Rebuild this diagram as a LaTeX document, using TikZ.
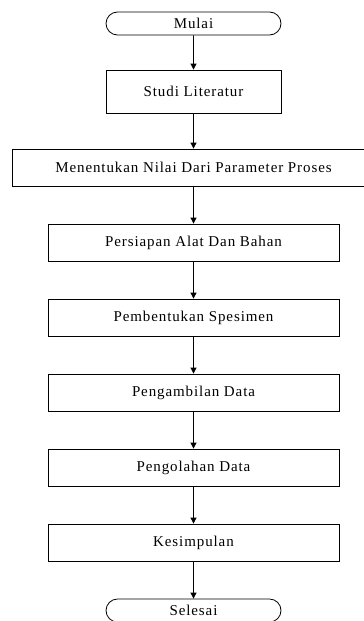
\documentclass[tikz,border=0pt]{standalone}
\usepackage{fontspec}
\setmainfont{Liberation Serif}[LetterSpace=6]
\usetikzlibrary{arrows.meta,shapes.misc}
\begin{document}
\begin{tikzpicture}[x=1pt,y=-1pt,
  txt/.style={font=\fontsize{15}{17}\selectfont, inner sep=0pt, text=black},
  box/.style={txt, draw=black, line width=0.8pt, rectangle, minimum width=291pt, minimum height=37pt},
  term/.style={txt, draw=black, line width=0.8pt, rounded rectangle, minimum width=175pt, minimum height=23pt},
  flow/.style={-{Triangle[width=6pt,length=6pt]}, line width=0.8pt, draw=black}]
\useasboundingbox (0,0) rectangle (364,621);
\node[term] (mulai) at (193.5,23.5) {Mulai};
\node[box, minimum width=175pt, minimum height=43pt] (studi) at (193.5,91.5) {Studi Literatur};
\node[box, minimum width=363pt] (nilai) at (193.5,167.5) {Menentukan Nilai Dari Parameter Proses};
\node[box] (alat) at (193.5,242.5) {Persiapan Alat Dan Bahan};
\node[box] (spes) at (193.5,317.5) {Pembentukan Spesimen};
\node[box] (ambil) at (193.5,392.5) {Pengambilan Data};
\node[box] (olah) at (193.5,467.5) {Pengolahan Data};
\node[box] (simpul) at (193.5,542.5) {Kesimpulan};
\node[term] (selesai) at (193.5,610.5) {Selesai};
\draw[flow] (mulai) -- (studi);
\draw[flow] (studi) -- (nilai);
\draw[flow] (nilai) -- (alat);
\draw[flow] (alat) -- (spes);
\draw[flow] (spes) -- (ambil);
\draw[flow] (ambil) -- (olah);
\draw[flow] (olah) -- (simpul);
\draw[flow] (simpul) -- (selesai);
\end{tikzpicture}
\end{document}
